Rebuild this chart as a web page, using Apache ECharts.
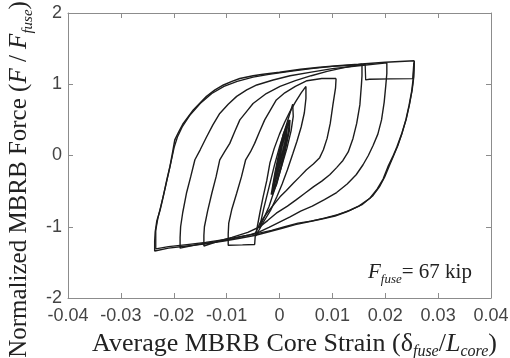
<!DOCTYPE html>
<html>
<head>
<meta charset="utf-8">
<script src="https://cdn.jsdelivr.net/npm/echarts@6/dist/echarts.min.js"></script>
<style>html,body{margin:0;padding:0;background:#fff;}</style>
</head>
<body>
<div id="chart" style="width:510px;height:358px;"></div>
<script>
// tick labels
var xTicks = ['-0.04', '-0.03', '-0.02', '-0.01', '0', '0.01', '0.02', '0.03', '0.04'];
var yTicks = ['-2', '-1', '0', '1', '2'];

// hysteresis cycles, [strain, normalized force]
var cycleOuterA = [
  [0.0255, 1.33], [0.0254, 1.20], [0.0253, 1.08], [0.0250, 0.90], [0.0245, 0.70], [0.0239, 0.50],
  [0.0231, 0.30], [0.0222, 0.12], [0.0214, -0.02], [0.0205, -0.16], [0.0196, -0.33], [0.0185, -0.47],
  [0.0171, -0.60], [0.0150, -0.71], [0.0127, -0.79], [0.0105, -0.85], [0.0080, -0.89], [0.0055, -0.93],
  [0.0030, -0.97], [0.0005, -1.02], [-0.0020, -1.07], [-0.0045, -1.12], [-0.0075, -1.16], [-0.0105, -1.20],
  [-0.0140, -1.24], [-0.0175, -1.27], [-0.0210, -1.30], [-0.0236, -1.34],
  [-0.0236, -1.20], [-0.0235, -1.07], [-0.0232, -0.92], [-0.0226, -0.77], [-0.0220, -0.58], [-0.0213, -0.34],
  [-0.0207, -0.15], [-0.0202, 0.05], [-0.0198, 0.22], [-0.0190, 0.34], [-0.0182, 0.45], [-0.0163, 0.64],
  [-0.0138, 0.83], [-0.0122, 0.92], [-0.0106, 0.99], [-0.0090, 1.04], [-0.0075, 1.08], [-0.0050, 1.12],
  [-0.0031, 1.14], [0.0000, 1.17], [0.0040, 1.21], [0.0076, 1.24], [0.0110, 1.26], [0.0149, 1.28],
  [0.0200, 1.31], [0.0255, 1.33]
];
var cycleOuterB = [
  [0.0255, 1.32], [0.0254, 1.10], [0.0251, 0.92], [0.0246, 0.72], [0.0240, 0.52], [0.0232, 0.32],
  [0.0224, 0.14], [0.0216, 0.00], [0.0208, -0.14], [0.0199, -0.30], [0.0189, -0.44], [0.0176, -0.57],
  [0.0156, -0.69], [0.0133, -0.77], [0.0110, -0.83], [0.0085, -0.88], [0.0060, -0.92], [0.0035, -0.95],
  [0.0010, -1.00], [-0.0015, -1.05], [-0.0045, -1.10], [-0.0075, -1.14], [-0.0105, -1.18], [-0.0140, -1.22],
  [-0.0175, -1.25], [-0.0210, -1.28], [-0.0234, -1.31],
  [-0.0234, -1.05], [-0.0230, -0.88], [-0.0224, -0.70], [-0.0217, -0.48], [-0.0210, -0.25], [-0.0204, -0.05],
  [-0.0199, 0.12], [-0.0193, 0.26], [-0.0184, 0.40], [-0.0170, 0.56], [-0.0150, 0.73], [-0.0128, 0.87],
  [-0.0105, 0.97], [-0.0080, 1.04], [-0.0050, 1.10], [-0.0020, 1.14], [0.0020, 1.18], [0.0060, 1.22],
  [0.0100, 1.25], [0.0140, 1.27], [0.0162, 1.28], [0.0163, 1.06], [0.0170, 1.07], [0.0210, 1.075],
  [0.0252, 1.08], [0.0254, 1.30]
];
var cycle20 = [
  [0.0203, 1.30], [0.0203, 1.15], [0.0201, 0.98], [0.0198, 0.75], [0.0193, 0.50], [0.0186, 0.30],
  [0.0177, 0.14], [0.0168, 0.00], [0.0158, -0.13], [0.0145, -0.27], [0.0128, -0.40], [0.0108, -0.52],
  [0.0085, -0.62], [0.0062, -0.71], [0.0040, -0.78], [0.0020, -0.86], [0.0001, -0.93], [-0.0020, -1.01],
  [-0.0037, -1.07], [-0.0060, -1.12], [-0.0090, -1.17], [-0.0120, -1.21], [-0.0155, -1.25], [-0.0188, -1.30],
  [-0.0188, -1.15], [-0.0187, -1.00], [-0.0183, -0.80], [-0.0176, -0.53], [-0.0168, -0.30], [-0.0160, -0.06],
  [-0.0150, 0.08], [-0.0138, 0.26], [-0.0126, 0.43], [-0.0113, 0.59], [-0.0097, 0.72], [-0.0081, 0.83],
  [-0.0062, 0.92], [-0.0043, 0.99], [-0.0012, 1.06], [0.0020, 1.12], [0.0060, 1.17], [0.0100, 1.22],
  [0.0150, 1.26], [0.0203, 1.30]
];
var cycle15 = [
  [0.0156, 1.28], [0.0156, 1.12], [0.0155, 1.00], [0.0152, 0.71], [0.0146, 0.45], [0.0139, 0.24],
  [0.0130, 0.05], [0.0120, -0.07], [0.0108, -0.17], [0.0095, -0.27], [0.0080, -0.36], [0.0064, -0.44],
  [0.0048, -0.53], [0.0032, -0.62], [0.0015, -0.71], [-0.0006, -0.81], [-0.0022, -0.91], [-0.0037, -1.00],
  [-0.0060, -1.08], [-0.0090, -1.15], [-0.0115, -1.20], [-0.0143, -1.27],
  [-0.0143, -1.12], [-0.0142, -1.00], [-0.0136, -0.78], [-0.0128, -0.53], [-0.0120, -0.30], [-0.0113, -0.06],
  [-0.0104, 0.05], [-0.0094, 0.17], [-0.0085, 0.33], [-0.0075, 0.50], [-0.0062, 0.62], [-0.0050, 0.73],
  [-0.0025, 0.87], [0.0001, 0.97], [0.0030, 1.05], [0.0060, 1.12], [0.0090, 1.18], [0.0120, 1.23],
  [0.0156, 1.28]
];
var cycle10 = [
  [0.0107, 1.08], [0.0106, 0.95], [0.0101, 0.71], [0.0096, 0.45], [0.0090, 0.24], [0.0083, 0.08],
  [0.0076, -0.03], [0.0064, -0.12], [0.0051, -0.20], [0.0038, -0.30], [0.0026, -0.39], [0.0013, -0.49],
  [0.0001, -0.58], [-0.0012, -0.70], [-0.0024, -0.81], [-0.0037, -0.95], [-0.0045, -1.08], [-0.0046, -1.14],
  [-0.0047, -1.25], [-0.0070, -1.255], [-0.0097, -1.26],
  [-0.0097, -1.10], [-0.0096, -0.95], [-0.0090, -0.75], [-0.0081, -0.53], [-0.0072, -0.30], [-0.0064, -0.06],
  [-0.0055, 0.05], [-0.0047, 0.17], [-0.0038, 0.33], [-0.0028, 0.50], [-0.0017, 0.64], [-0.0006, 0.78],
  [0.0010, 0.88], [0.0030, 0.97], [0.0052, 1.05], [0.0080, 1.08], [0.0107, 1.08]
];
var cycle05 = [
  [-0.0045, -1.13], [-0.0042, -1.00], [-0.0037, -0.80], [-0.0031, -0.58], [-0.0024, -0.35], [-0.0018, -0.10],
  [-0.0010, 0.10], [0.0000, 0.30], [0.0010, 0.47], [0.0020, 0.62], [0.0030, 0.75], [0.0041, 0.88],
  [0.0050, 0.97], [0.0050, 0.80], [0.0047, 0.60], [0.0041, 0.40], [0.0033, 0.20], [0.0025, 0.02],
  [0.0015, -0.20], [0.0005, -0.40], [-0.0005, -0.58], [-0.0017, -0.77], [-0.0030, -0.93], [-0.0045, -1.13]
];
var cycle03 = [
  [-0.0038, -1.02], [-0.0030, -0.75], [-0.0020, -0.45], [-0.0010, -0.15], [0.0000, 0.12], [0.0010, 0.36],
  [0.0018, 0.55], [0.0025, 0.72], [0.0026, 0.55], [0.0022, 0.35], [0.0014, 0.10], [0.0004, -0.15],
  [-0.0008, -0.45], [-0.0020, -0.72], [-0.0038, -1.02]
];
var cycleCoreA = [
  [-0.0015, -0.55], [-0.0008, -0.25], [0.0000, 0.05], [0.0008, 0.30], [0.0019, 0.50], [0.0018, 0.35],
  [0.0011, 0.10], [0.0003, -0.15], [-0.0006, -0.40], [-0.0015, -0.55]
];
var cycleCoreB = [
  [-0.0012, -0.45], [-0.0004, -0.15], [0.0004, 0.12], [0.0014, 0.40], [0.0012, 0.22], [0.0004, -0.02],
  [-0.0005, -0.28], [-0.0012, -0.45]
];

var myChart = echarts.init(document.getElementById('chart'));

function tickFmt(labels, min, step) {
  return function (v) { return labels[Math.round((v - min) / step)]; };
}

var axisColor = '#8c8c8c';
var serif = 'Liberation Serif';
function titleRich(size, subSize, drop) {
  return {
    t: { fontFamily: serif, fontSize: size, color: '#222', verticalAlign: 'top' },
    i: { fontFamily: serif, fontSize: size, color: '#222', fontStyle: 'italic', verticalAlign: 'top' },
    s: { fontFamily: serif, fontSize: subSize, color: '#222', fontStyle: 'italic', verticalAlign: 'top', padding: [drop, 0, 0, 0] }
  };
}

function line(data, w) {
  return {
    type: 'line', data: data, showSymbol: false, symbol: 'none', smooth: false,
    lineStyle: { color: '#1c1c1c', width: w }, silent: true, z: 3
  };
}

function frameAxis(pos, extra) {
  var ax = {
    type: 'value', position: pos,
    axisLine: { show: true, onZero: false, lineStyle: { color: axisColor, width: 1 } },
    axisTick: { show: true, inside: true, length: 5, lineStyle: { color: axisColor } },
    splitLine: { show: false },
    axisLabel: { show: false }
  };
  for (var k in extra) ax[k] = extra[k];
  return ax;
}

var option = {
  animation: false,
  grid: { left: 68, right: 19, top: 13, bottom: 60, containLabel: false, outerBoundsMode: 'none' },
  xAxis: [
    frameAxis('bottom', {
      min: -0.04, max: 0.04, interval: 0.01,
      axisLabel: { color: '#444', fontSize: 18, fontFamily: 'Liberation Sans', margin: 9,
        formatter: tickFmt(xTicks, -0.04, 0.01) },
      name: '{t|Average MBRB Core Strain (δ}{s|fuse}{t|/}{i|L}{s|core}{t|)}',
      nameLocation: 'middle', nameGap: 33,
      nameTextStyle: { rich: titleRich(26, 16, 13), padding: [0, 0, 0, 30] }
    }),
    frameAxis('top', { min: -0.04, max: 0.04, interval: 0.01 })
  ],
  yAxis: [
    frameAxis('left', {
      min: -2, max: 2, interval: 1,
      axisLabel: { color: '#444', fontSize: 18, fontFamily: 'Liberation Sans', margin: 6,
        formatter: tickFmt(yTicks, -2, 1) },
      name: '{t|Normalized MBRB Force (}{i|F}{t| / }{i|F}{s|fuse}{t|)}',
      nameLocation: 'middle', nameGap: 30, nameRotate: 90,
      nameTextStyle: { rich: titleRich(25, 15, 13), padding: [0, 48, 0, 0] }
    }),
    frameAxis('right', { min: -2, max: 2, interval: 1 })
  ],
  graphic: [{
    type: 'text', left: 368, top: 262, z: 10,
    style: {
      text: '{i|F}{s|fuse}{t|= 67 kip}',
      rich: {
        t: { fontFamily: serif, fontSize: 21, fill: '#222', verticalAlign: 'top' },
        i: { fontFamily: serif, fontSize: 21, fill: '#222', fontStyle: 'italic', verticalAlign: 'top' },
        s: { fontFamily: serif, fontSize: 13, fill: '#222', fontStyle: 'italic', verticalAlign: 'top', padding: [11, 0, 0, 0] }
      }
    }
  }],
  series: [
    line(cycleOuterA, 1.5),
    line(cycleOuterB, 1.3),
    line(cycle20, 1.4),
    line(cycle15, 1.4),
    line(cycle10, 1.4),
    line(cycle05, 1.4),
    line(cycle03, 1.4),
    line(cycleCoreA, 2.2),
    line(cycleCoreB, 2.2)
  ]
};
myChart.setOption(option);
</script>
</body>
</html>
